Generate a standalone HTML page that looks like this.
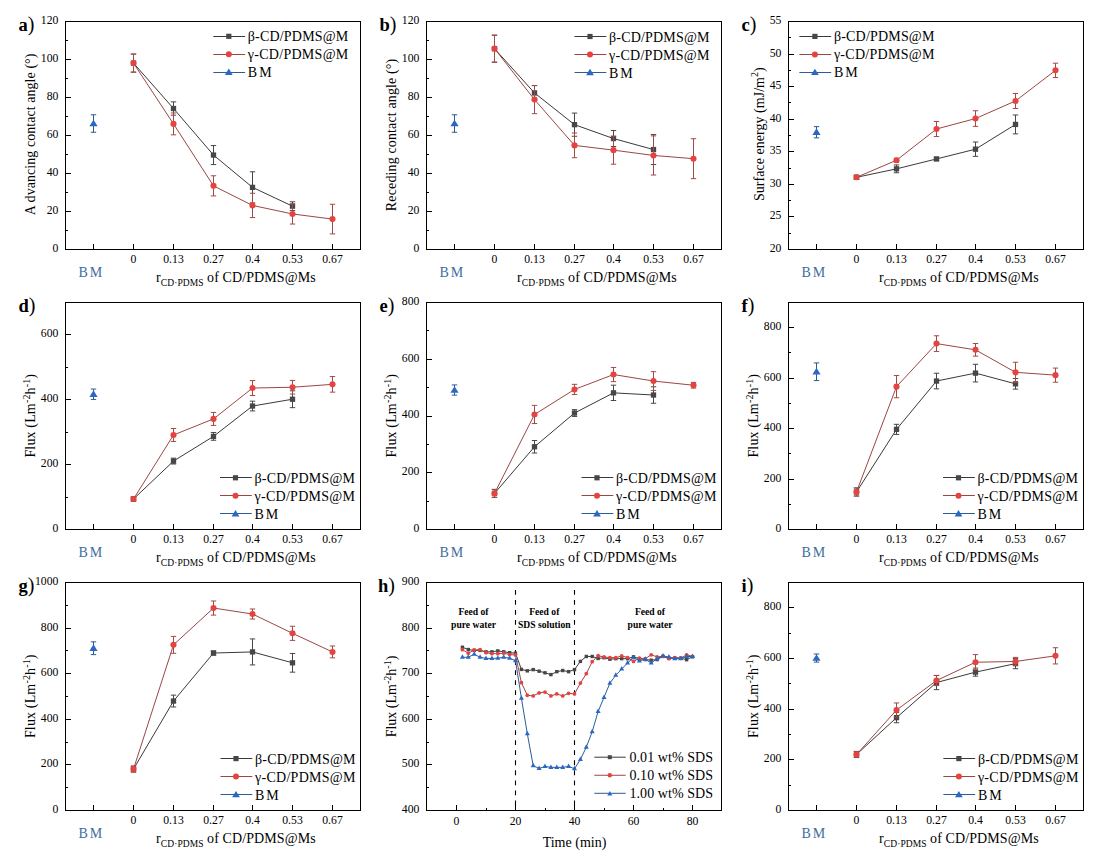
<!DOCTYPE html><html><head><meta charset='utf-8'><style>html,body{margin:0;padding:0;background:#fff;width:1104px;height:858px;overflow:hidden}svg{display:block}</style></head><body><svg width='1104' height='858' viewBox='0 0 1104 858' font-family="'Liberation Serif', serif"><rect width='1104' height='858' fill='#fff'/><path d='M93.5 249V244' stroke='#000' stroke-width='1'/><path d='M133.5 249V244' stroke='#000' stroke-width='1'/><path d='M173.5 249V244' stroke='#000' stroke-width='1'/><path d='M213.5 249V244' stroke='#000' stroke-width='1'/><path d='M252.5 249V244' stroke='#000' stroke-width='1'/><path d='M292.5 249V244' stroke='#000' stroke-width='1'/><path d='M332.5 249V244' stroke='#000' stroke-width='1'/><path d='M66 230.5H68' stroke='#000' stroke-width='1'/><path d='M66 211.5H71' stroke='#000' stroke-width='1'/><path d='M66 192.5H68' stroke='#000' stroke-width='1'/><path d='M66 173.5H71' stroke='#000' stroke-width='1'/><path d='M66 154.5H68' stroke='#000' stroke-width='1'/><path d='M66 135.5H71' stroke='#000' stroke-width='1'/><path d='M66 116.5H68' stroke='#000' stroke-width='1'/><path d='M66 97.5H71' stroke='#000' stroke-width='1'/><path d='M66 78.5H68' stroke='#000' stroke-width='1'/><path d='M66 59.5H71' stroke='#000' stroke-width='1'/><path d='M66 40.5H68' stroke='#000' stroke-width='1'/><text transform='translate(58.4 252) scale(0.9 1)' font-size='13' text-anchor='end' fill='#000'>0</text><text transform='translate(58.4 214) scale(0.9 1)' font-size='13' text-anchor='end' fill='#000'>20</text><text transform='translate(58.4 176) scale(0.9 1)' font-size='13' text-anchor='end' fill='#000'>40</text><text transform='translate(58.4 138) scale(0.9 1)' font-size='13' text-anchor='end' fill='#000'>60</text><text transform='translate(58.4 100) scale(0.9 1)' font-size='13' text-anchor='end' fill='#000'>80</text><text transform='translate(58.4 62) scale(0.9 1)' font-size='13' text-anchor='end' fill='#000'>100</text><text transform='translate(58.4 24) scale(0.9 1)' font-size='13' text-anchor='end' fill='#000'>120</text><rect x='65.5' y='21.5' width='295' height='228' fill='none' stroke='#000' stroke-width='1'/><text transform='translate(133.5 263) scale(0.9 1)' font-size='13' text-anchor='middle' fill='#000'>0</text><text transform='translate(173.5 263) scale(0.9 1)' font-size='13' text-anchor='middle' fill='#000'>0.13</text><text transform='translate(213.5 263) scale(0.9 1)' font-size='13' text-anchor='middle' fill='#000'>0.27</text><text transform='translate(252.5 263) scale(0.9 1)' font-size='13' text-anchor='middle' fill='#000'>0.4</text><text transform='translate(292.5 263) scale(0.9 1)' font-size='13' text-anchor='middle' fill='#000'>0.53</text><text transform='translate(332.5 263) scale(0.9 1)' font-size='13' text-anchor='middle' fill='#000'>0.67</text><text x='78.5' y='276.5' font-size='14' text-anchor='start' font-weight='normal' fill='#3d6d9e' letter-spacing='2'>BM</text><text x='156.1' y='282' font-size='14'>r<tspan font-size='9.5' dy='3.5' letter-spacing='0.1'>CD·PDMS</tspan><tspan dy='-3.5' dx='3.4' letter-spacing='0.1'>of CD/PDMS@Ms</tspan></text><text transform='translate(35 134.45) rotate(-90)' x='0' y='0' font-size='14' text-anchor='middle' textLength='161.8' lengthAdjust='spacing'>A dvancing contact angle (°)</text><text x='18.5' y='30.9' font-size='18.5' font-weight='bold'>a<tspan font-weight='normal' font-size='20' dy='0.3'>)</tspan></text><path d='M133.5 63.11L173.5 108.52L213.5 155.07L252.5 187.37L292.5 206.18' stroke='#3a3a3a' stroke-width='1' fill='none' stroke-linejoin='round'/><path d='M133.5 54.09V72.14M130.8 54.09H136.2M130.8 72.14H136.2' stroke='#474747' stroke-width='1' fill='none'/><path d='M173.5 101.87V115.17M170.8 101.87H176.2M170.8 115.17H176.2' stroke='#474747' stroke-width='1' fill='none'/><path d='M213.5 145.57V164.57M210.8 145.57H216.2M210.8 164.57H216.2' stroke='#474747' stroke-width='1' fill='none'/><path d='M252.5 171.79V202.95M249.8 171.79H255.2M249.8 202.95H255.2' stroke='#474747' stroke-width='1' fill='none'/><path d='M292.5 201.81V210.55M289.8 201.81H295.2M289.8 210.55H295.2' stroke='#474747' stroke-width='1' fill='none'/><rect x='130.85' y='60.46' width='5.3' height='5.3' fill='#474747'/><rect x='170.85' y='105.87' width='5.3' height='5.3' fill='#474747'/><rect x='210.85' y='152.42' width='5.3' height='5.3' fill='#474747'/><rect x='249.85' y='184.72' width='5.3' height='5.3' fill='#474747'/><rect x='289.85' y='203.53' width='5.3' height='5.3' fill='#474747'/><path d='M133.5 63.11L173.5 123.91L213.5 185.85L252.5 205.42L292.5 213.97L332.5 219.1' stroke='#9c4644' stroke-width='1' fill='none' stroke-linejoin='round'/><path d='M133.5 54.09V72.14M130.8 54.09H136.2M130.8 72.14H136.2' stroke='#a04a48' stroke-width='1' fill='none'/><path d='M173.5 112.99V134.84M170.8 112.99H176.2M170.8 134.84H176.2' stroke='#a04a48' stroke-width='1' fill='none'/><path d='M213.5 175.78V195.92M210.8 175.78H216.2M210.8 195.92H216.2' stroke='#a04a48' stroke-width='1' fill='none'/><path d='M252.5 193.26V217.58M249.8 193.26H255.2M249.8 217.58H255.2' stroke='#a04a48' stroke-width='1' fill='none'/><path d='M292.5 203.9V224.04M289.8 203.9H295.2M289.8 224.04H295.2' stroke='#a04a48' stroke-width='1' fill='none'/><path d='M332.5 204.28V233.92M329.8 204.28H335.2M329.8 233.92H335.2' stroke='#a04a48' stroke-width='1' fill='none'/><circle cx='133.5' cy='63.11' r='3.05' fill='#e5433f'/><circle cx='173.5' cy='123.91' r='3.05' fill='#e5433f'/><circle cx='213.5' cy='185.85' r='3.05' fill='#e5433f'/><circle cx='252.5' cy='205.42' r='3.05' fill='#e5433f'/><circle cx='292.5' cy='213.97' r='3.05' fill='#e5433f'/><circle cx='332.5' cy='219.1' r='3.05' fill='#e5433f'/><path d='M93.5 114.79V132.27M90.8 114.79H96.2M90.8 132.27H96.2' stroke='#2e5a92' stroke-width='1' fill='none'/><path d='M89.4 126.23L93.5 119.63L97.6 126.23Z' fill='#2a68c4'/><path d='M213.3 36.5H245.1' stroke='#3a3a3a' stroke-width='1'/><rect x='226.2' y='33.7' width='5.2' height='5.2' fill='#474747'/><text x='247.8' y='41.3' font-size='14' text-anchor='start' font-weight='normal' fill='#000' textLength='100.5' lengthAdjust='spacing'>β-CD/PDMS@M</text><path d='M213.3 54.5H245.1' stroke='#9c4644' stroke-width='1'/><circle cx='228.8' cy='54.3' r='3' fill='#e5433f'/><text x='247.8' y='59.3' font-size='14' text-anchor='start' font-weight='normal' fill='#000' textLength='100.5' lengthAdjust='spacing'>γ-CD/PDMS@M</text><path d='M213.3 72.5H245.1' stroke='#2c5c98' stroke-width='1'/><path d='M224.9 75L228.8 68.6L232.7 75Z' fill='#2a68c4'/><text x='247.8' y='77.3' font-size='14' text-anchor='start' font-weight='normal' fill='#000' letter-spacing='2'>BM</text><path d='M454.5 249V244' stroke='#000' stroke-width='1'/><path d='M494.5 249V244' stroke='#000' stroke-width='1'/><path d='M534.5 249V244' stroke='#000' stroke-width='1'/><path d='M574.5 249V244' stroke='#000' stroke-width='1'/><path d='M613.5 249V244' stroke='#000' stroke-width='1'/><path d='M653.5 249V244' stroke='#000' stroke-width='1'/><path d='M693.5 249V244' stroke='#000' stroke-width='1'/><path d='M427 230.5H429' stroke='#000' stroke-width='1'/><path d='M427 211.5H432' stroke='#000' stroke-width='1'/><path d='M427 192.5H429' stroke='#000' stroke-width='1'/><path d='M427 173.5H432' stroke='#000' stroke-width='1'/><path d='M427 154.5H429' stroke='#000' stroke-width='1'/><path d='M427 135.5H432' stroke='#000' stroke-width='1'/><path d='M427 116.5H429' stroke='#000' stroke-width='1'/><path d='M427 97.5H432' stroke='#000' stroke-width='1'/><path d='M427 78.5H429' stroke='#000' stroke-width='1'/><path d='M427 59.5H432' stroke='#000' stroke-width='1'/><path d='M427 40.5H429' stroke='#000' stroke-width='1'/><text transform='translate(419.4 252) scale(0.9 1)' font-size='13' text-anchor='end' fill='#000'>0</text><text transform='translate(419.4 214) scale(0.9 1)' font-size='13' text-anchor='end' fill='#000'>20</text><text transform='translate(419.4 176) scale(0.9 1)' font-size='13' text-anchor='end' fill='#000'>40</text><text transform='translate(419.4 138) scale(0.9 1)' font-size='13' text-anchor='end' fill='#000'>60</text><text transform='translate(419.4 100) scale(0.9 1)' font-size='13' text-anchor='end' fill='#000'>80</text><text transform='translate(419.4 62) scale(0.9 1)' font-size='13' text-anchor='end' fill='#000'>100</text><text transform='translate(419.4 24) scale(0.9 1)' font-size='13' text-anchor='end' fill='#000'>120</text><rect x='426.5' y='21.5' width='295' height='228' fill='none' stroke='#000' stroke-width='1'/><text transform='translate(494.5 263) scale(0.9 1)' font-size='13' text-anchor='middle' fill='#000'>0</text><text transform='translate(534.5 263) scale(0.9 1)' font-size='13' text-anchor='middle' fill='#000'>0.13</text><text transform='translate(574.5 263) scale(0.9 1)' font-size='13' text-anchor='middle' fill='#000'>0.27</text><text transform='translate(613.5 263) scale(0.9 1)' font-size='13' text-anchor='middle' fill='#000'>0.4</text><text transform='translate(653.5 263) scale(0.9 1)' font-size='13' text-anchor='middle' fill='#000'>0.53</text><text transform='translate(693.5 263) scale(0.9 1)' font-size='13' text-anchor='middle' fill='#000'>0.67</text><text x='439.5' y='276.5' font-size='14' text-anchor='start' font-weight='normal' fill='#3d6d9e' letter-spacing='2'>BM</text><text x='517.1' y='282' font-size='14'>r<tspan font-size='9.5' dy='3.5' letter-spacing='0.1'>CD·PDMS</tspan><tspan dy='-3.5' dx='3.4' letter-spacing='0.1'>of CD/PDMS@Ms</tspan></text><text transform='translate(396 134.95) rotate(-90)' x='0' y='0' font-size='14' text-anchor='middle' textLength='152.4' lengthAdjust='spacing'>Receding contact angle (°)</text><text x='379.5' y='30.9' font-size='18.5' font-weight='bold'>b<tspan font-weight='normal' font-size='20' dy='0.3'>)</tspan></text><path d='M494.5 48.67L534.5 92.94L574.5 124.67L613.5 138.54L653.5 149.56' stroke='#3a3a3a' stroke-width='1' fill='none' stroke-linejoin='round'/><path d='M494.5 35.18V62.16M491.8 35.18H497.2M491.8 62.16H497.2' stroke='#474747' stroke-width='1' fill='none'/><path d='M534.5 85.62V100.25M531.8 85.62H537.2M531.8 100.25H537.2' stroke='#474747' stroke-width='1' fill='none'/><path d='M574.5 113.08V136.26M571.8 113.08H577.2M571.8 136.26H577.2' stroke='#474747' stroke-width='1' fill='none'/><path d='M613.5 130.56V146.52M610.8 130.56H616.2M610.8 146.52H616.2' stroke='#474747' stroke-width='1' fill='none'/><path d='M653.5 134.55V164.57M650.8 134.55H656.2M650.8 164.57H656.2' stroke='#474747' stroke-width='1' fill='none'/><rect x='491.85' y='46.02' width='5.3' height='5.3' fill='#474747'/><rect x='531.85' y='90.29' width='5.3' height='5.3' fill='#474747'/><rect x='571.85' y='122.02' width='5.3' height='5.3' fill='#474747'/><rect x='610.85' y='135.89' width='5.3' height='5.3' fill='#474747'/><rect x='650.85' y='146.91' width='5.3' height='5.3' fill='#474747'/><path d='M494.5 48.67L534.5 99.59L574.5 145.38L613.5 150.13L653.5 155.45L693.5 158.68' stroke='#9c4644' stroke-width='1' fill='none' stroke-linejoin='round'/><path d='M494.5 35.18V62.16M491.8 35.18H497.2M491.8 62.16H497.2' stroke='#a04a48' stroke-width='1' fill='none'/><path d='M534.5 85.53V113.65M531.8 85.53H537.2M531.8 113.65H537.2' stroke='#a04a48' stroke-width='1' fill='none'/><path d='M574.5 133.03V157.73M571.8 133.03H577.2M571.8 157.73H577.2' stroke='#a04a48' stroke-width='1' fill='none'/><path d='M613.5 136.07V164.19M610.8 136.07H616.2M610.8 164.19H616.2' stroke='#a04a48' stroke-width='1' fill='none'/><path d='M653.5 135.88V175.02M650.8 135.88H656.2M650.8 175.02H656.2' stroke='#a04a48' stroke-width='1' fill='none'/><path d='M693.5 138.73V178.63M690.8 138.73H696.2M690.8 178.63H696.2' stroke='#a04a48' stroke-width='1' fill='none'/><circle cx='494.5' cy='48.67' r='3.05' fill='#e5433f'/><circle cx='534.5' cy='99.59' r='3.05' fill='#e5433f'/><circle cx='574.5' cy='145.38' r='3.05' fill='#e5433f'/><circle cx='613.5' cy='150.13' r='3.05' fill='#e5433f'/><circle cx='653.5' cy='155.45' r='3.05' fill='#e5433f'/><circle cx='693.5' cy='158.68' r='3.05' fill='#e5433f'/><path d='M454.5 114.79V132.27M451.8 114.79H457.2M451.8 132.27H457.2' stroke='#2e5a92' stroke-width='1' fill='none'/><path d='M450.4 126.23L454.5 119.63L458.6 126.23Z' fill='#2a68c4'/><path d='M574.5 36.5H606.3' stroke='#3a3a3a' stroke-width='1'/><rect x='587.4' y='33.9' width='5.2' height='5.2' fill='#474747'/><text x='609' y='41.5' font-size='14' text-anchor='start' font-weight='normal' fill='#000' textLength='100.5' lengthAdjust='spacing'>β-CD/PDMS@M</text><path d='M574.5 54.5H606.3' stroke='#9c4644' stroke-width='1'/><circle cx='590' cy='54.5' r='3' fill='#e5433f'/><text x='609' y='59.5' font-size='14' text-anchor='start' font-weight='normal' fill='#000' textLength='100.5' lengthAdjust='spacing'>γ-CD/PDMS@M</text><path d='M574.5 72.5H606.3' stroke='#2c5c98' stroke-width='1'/><path d='M586.1 75.2L590 68.8L593.9 75.2Z' fill='#2a68c4'/><text x='609' y='77.5' font-size='14' text-anchor='start' font-weight='normal' fill='#000' letter-spacing='2'>BM</text><path d='M816.5 249V244' stroke='#000' stroke-width='1'/><path d='M856.5 249V244' stroke='#000' stroke-width='1'/><path d='M896.5 249V244' stroke='#000' stroke-width='1'/><path d='M936.5 249V244' stroke='#000' stroke-width='1'/><path d='M975.5 249V244' stroke='#000' stroke-width='1'/><path d='M1015.5 249V244' stroke='#000' stroke-width='1'/><path d='M1055.5 249V244' stroke='#000' stroke-width='1'/><path d='M789 233.5H791' stroke='#000' stroke-width='1'/><path d='M789 216.5H794' stroke='#000' stroke-width='1'/><path d='M789 200.5H791' stroke='#000' stroke-width='1'/><path d='M789 184.5H794' stroke='#000' stroke-width='1'/><path d='M789 168.5H791' stroke='#000' stroke-width='1'/><path d='M789 151.5H794' stroke='#000' stroke-width='1'/><path d='M789 135.5H791' stroke='#000' stroke-width='1'/><path d='M789 119.5H794' stroke='#000' stroke-width='1'/><path d='M789 102.5H791' stroke='#000' stroke-width='1'/><path d='M789 86.5H794' stroke='#000' stroke-width='1'/><path d='M789 70.5H791' stroke='#000' stroke-width='1'/><path d='M789 54.5H794' stroke='#000' stroke-width='1'/><path d='M789 37.5H791' stroke='#000' stroke-width='1'/><text transform='translate(781.4 252) scale(0.9 1)' font-size='13' text-anchor='end' fill='#000'>20</text><text transform='translate(781.4 219) scale(0.9 1)' font-size='13' text-anchor='end' fill='#000'>25</text><text transform='translate(781.4 187) scale(0.9 1)' font-size='13' text-anchor='end' fill='#000'>30</text><text transform='translate(781.4 154) scale(0.9 1)' font-size='13' text-anchor='end' fill='#000'>35</text><text transform='translate(781.4 122) scale(0.9 1)' font-size='13' text-anchor='end' fill='#000'>40</text><text transform='translate(781.4 89) scale(0.9 1)' font-size='13' text-anchor='end' fill='#000'>45</text><text transform='translate(781.4 57) scale(0.9 1)' font-size='13' text-anchor='end' fill='#000'>50</text><text transform='translate(781.4 24) scale(0.9 1)' font-size='13' text-anchor='end' fill='#000'>55</text><rect x='788.5' y='21.5' width='295' height='228' fill='none' stroke='#000' stroke-width='1'/><text transform='translate(856.5 263) scale(0.9 1)' font-size='13' text-anchor='middle' fill='#000'>0</text><text transform='translate(896.5 263) scale(0.9 1)' font-size='13' text-anchor='middle' fill='#000'>0.13</text><text transform='translate(936.5 263) scale(0.9 1)' font-size='13' text-anchor='middle' fill='#000'>0.27</text><text transform='translate(975.5 263) scale(0.9 1)' font-size='13' text-anchor='middle' fill='#000'>0.4</text><text transform='translate(1015.5 263) scale(0.9 1)' font-size='13' text-anchor='middle' fill='#000'>0.53</text><text transform='translate(1055.5 263) scale(0.9 1)' font-size='13' text-anchor='middle' fill='#000'>0.67</text><text x='801.5' y='276.5' font-size='14' text-anchor='start' font-weight='normal' fill='#3d6d9e' letter-spacing='2'>BM</text><text x='879.1' y='282' font-size='14'>r<tspan font-size='9.5' dy='3.5' letter-spacing='0.1'>CD·PDMS</tspan><tspan dy='-3.5' dx='3.4' letter-spacing='0.1'>of CD/PDMS@Ms</tspan></text><text transform='translate(763.7 134.2) rotate(-90)' x='0' y='0' font-size='14' text-anchor='middle' textLength='133.8' lengthAdjust='spacing'>Surface energy (mJ/m<tspan font-size="10" dy="-6">2</tspan><tspan dy="6">)</tspan></text><text x='741.5' y='30.9' font-size='18.5' font-weight='bold'>c<tspan font-weight='normal' font-size='20' dy='0.3'>)</tspan></text><path d='M856.5 177.32L896.5 168.85L936.5 158.95L975.5 149.18L1015.5 124.43' stroke='#3a3a3a' stroke-width='1' fill='none' stroke-linejoin='round'/><path d='M856.5 175.37V179.28M853.8 175.37H859.2M853.8 179.28H859.2' stroke='#474747' stroke-width='1' fill='none'/><path d='M896.5 164.94V172.76M893.8 164.94H899.2M893.8 172.76H899.2' stroke='#474747' stroke-width='1' fill='none'/><path d='M936.5 157.32V160.58M933.8 157.32H939.2M933.8 160.58H939.2' stroke='#474747' stroke-width='1' fill='none'/><path d='M975.5 142.01V156.35M972.8 142.01H978.2M972.8 156.35H978.2' stroke='#474747' stroke-width='1' fill='none'/><path d='M1015.5 114.98V133.87M1012.8 114.98H1018.2M1012.8 133.87H1018.2' stroke='#474747' stroke-width='1' fill='none'/><rect x='853.85' y='174.67' width='5.3' height='5.3' fill='#474747'/><rect x='893.85' y='166.2' width='5.3' height='5.3' fill='#474747'/><rect x='933.85' y='156.3' width='5.3' height='5.3' fill='#474747'/><rect x='972.85' y='146.53' width='5.3' height='5.3' fill='#474747'/><rect x='1012.85' y='121.78' width='5.3' height='5.3' fill='#474747'/><path d='M856.5 177.32L896.5 160.25L936.5 128.99L975.5 118.56L1015.5 100.97L1055.5 70.36' stroke='#9c4644' stroke-width='1' fill='none' stroke-linejoin='round'/><path d='M856.5 175.37V179.28M853.8 175.37H859.2M853.8 179.28H859.2' stroke='#a04a48' stroke-width='1' fill='none'/><path d='M896.5 158.3V162.21M893.8 158.3H899.2M893.8 162.21H899.2' stroke='#a04a48' stroke-width='1' fill='none'/><path d='M936.5 121.49V136.48M933.8 121.49H939.2M933.8 136.48H939.2' stroke='#a04a48' stroke-width='1' fill='none'/><path d='M975.5 110.75V126.38M972.8 110.75H978.2M972.8 126.38H978.2' stroke='#a04a48' stroke-width='1' fill='none'/><path d='M1015.5 93.48V108.47M1012.8 93.48H1018.2M1012.8 108.47H1018.2' stroke='#a04a48' stroke-width='1' fill='none'/><path d='M1055.5 63.19V77.52M1052.8 63.19H1058.2M1052.8 77.52H1058.2' stroke='#a04a48' stroke-width='1' fill='none'/><circle cx='856.5' cy='177.32' r='3.05' fill='#e5433f'/><circle cx='896.5' cy='160.25' r='3.05' fill='#e5433f'/><circle cx='936.5' cy='128.99' r='3.05' fill='#e5433f'/><circle cx='975.5' cy='118.56' r='3.05' fill='#e5433f'/><circle cx='1015.5' cy='100.97' r='3.05' fill='#e5433f'/><circle cx='1055.5' cy='70.36' r='3.05' fill='#e5433f'/><path d='M816.5 126.64V137.85M813.8 126.64H819.2M813.8 137.85H819.2' stroke='#2e5a92' stroke-width='1' fill='none'/><path d='M812.4 134.94L816.5 128.34L820.6 134.94Z' fill='#2a68c4'/><path d='M799.4 36.5H831.2' stroke='#3a3a3a' stroke-width='1'/><rect x='812.3' y='33.8' width='5.2' height='5.2' fill='#474747'/><text x='833.9' y='41.4' font-size='14' text-anchor='start' font-weight='normal' fill='#000' textLength='100.5' lengthAdjust='spacing'>β-CD/PDMS@M</text><path d='M799.4 54.5H831.2' stroke='#9c4644' stroke-width='1'/><circle cx='814.9' cy='54.4' r='3' fill='#e5433f'/><text x='833.9' y='59.4' font-size='14' text-anchor='start' font-weight='normal' fill='#000' textLength='100.5' lengthAdjust='spacing'>γ-CD/PDMS@M</text><path d='M799.4 72.5H831.2' stroke='#2c5c98' stroke-width='1'/><path d='M811 75.1L814.9 68.7L818.8 75.1Z' fill='#2a68c4'/><text x='833.9' y='77.4' font-size='14' text-anchor='start' font-weight='normal' fill='#000' letter-spacing='2'>BM</text><path d='M93.5 529V524' stroke='#000' stroke-width='1'/><path d='M133.5 529V524' stroke='#000' stroke-width='1'/><path d='M173.5 529V524' stroke='#000' stroke-width='1'/><path d='M213.5 529V524' stroke='#000' stroke-width='1'/><path d='M252.5 529V524' stroke='#000' stroke-width='1'/><path d='M292.5 529V524' stroke='#000' stroke-width='1'/><path d='M332.5 529V524' stroke='#000' stroke-width='1'/><path d='M66 497.5H68' stroke='#000' stroke-width='1'/><path d='M66 464.5H71' stroke='#000' stroke-width='1'/><path d='M66 432.5H68' stroke='#000' stroke-width='1'/><path d='M66 399.5H71' stroke='#000' stroke-width='1'/><path d='M66 367.5H68' stroke='#000' stroke-width='1'/><path d='M66 334.5H71' stroke='#000' stroke-width='1'/><text transform='translate(58.4 532) scale(0.9 1)' font-size='13' text-anchor='end' fill='#000'>0</text><text transform='translate(58.4 467) scale(0.9 1)' font-size='13' text-anchor='end' fill='#000'>200</text><text transform='translate(58.4 402) scale(0.9 1)' font-size='13' text-anchor='end' fill='#000'>400</text><text transform='translate(58.4 337) scale(0.9 1)' font-size='13' text-anchor='end' fill='#000'>600</text><rect x='65.5' y='302.5' width='295' height='227' fill='none' stroke='#000' stroke-width='1'/><text transform='translate(133.5 543) scale(0.9 1)' font-size='13' text-anchor='middle' fill='#000'>0</text><text transform='translate(173.5 543) scale(0.9 1)' font-size='13' text-anchor='middle' fill='#000'>0.13</text><text transform='translate(213.5 543) scale(0.9 1)' font-size='13' text-anchor='middle' fill='#000'>0.27</text><text transform='translate(252.5 543) scale(0.9 1)' font-size='13' text-anchor='middle' fill='#000'>0.4</text><text transform='translate(292.5 543) scale(0.9 1)' font-size='13' text-anchor='middle' fill='#000'>0.53</text><text transform='translate(332.5 543) scale(0.9 1)' font-size='13' text-anchor='middle' fill='#000'>0.67</text><text x='78.5' y='556.5' font-size='14' text-anchor='start' font-weight='normal' fill='#3d6d9e' letter-spacing='2'>BM</text><text x='156.1' y='562' font-size='14'>r<tspan font-size='9.5' dy='3.5' letter-spacing='0.1'>CD·PDMS</tspan><tspan dy='-3.5' dx='3.4' letter-spacing='0.1'>of CD/PDMS@Ms</tspan></text><text transform='translate(35 415.8) rotate(-90)' x='0' y='0' font-size='14' text-anchor='middle' textLength='83.6' lengthAdjust='spacing'>Flux (Lm<tspan font-size="10" dy="-5.5">-2</tspan><tspan dy="5.5">h</tspan><tspan font-size="10" dy="-5.5">-1</tspan><tspan dy="5.5">)</tspan></text><text x='18.5' y='311.9' font-size='18.5' font-weight='bold'>d<tspan font-weight='normal' font-size='20' dy='0.3'>)</tspan></text><path d='M133.5 499.02L173.5 461.08L213.5 436.37L252.5 406.04L292.5 399.23' stroke='#3a3a3a' stroke-width='1' fill='none' stroke-linejoin='round'/><path d='M133.5 497.07V500.96M130.8 497.07H136.2M130.8 500.96H136.2' stroke='#474747' stroke-width='1' fill='none'/><path d='M173.5 458.16V463.99M170.8 458.16H176.2M170.8 463.99H176.2' stroke='#474747' stroke-width='1' fill='none'/><path d='M213.5 432.47V440.26M210.8 432.47H216.2M210.8 440.26H216.2' stroke='#474747' stroke-width='1' fill='none'/><path d='M252.5 401.18V410.91M249.8 401.18H255.2M249.8 410.91H255.2' stroke='#474747' stroke-width='1' fill='none'/><path d='M292.5 390.8V407.67M289.8 390.8H295.2M289.8 407.67H295.2' stroke='#474747' stroke-width='1' fill='none'/><rect x='130.85' y='496.37' width='5.3' height='5.3' fill='#474747'/><rect x='170.85' y='458.43' width='5.3' height='5.3' fill='#474747'/><rect x='210.85' y='433.72' width='5.3' height='5.3' fill='#474747'/><rect x='249.85' y='403.39' width='5.3' height='5.3' fill='#474747'/><rect x='289.85' y='396.58' width='5.3' height='5.3' fill='#474747'/><path d='M133.5 499.02L173.5 434.97L213.5 418.92L252.5 388.05L292.5 387.24L332.5 384.35' stroke='#9c4644' stroke-width='1' fill='none' stroke-linejoin='round'/><path d='M133.5 497.07V500.96M130.8 497.07H136.2M130.8 500.96H136.2' stroke='#a04a48' stroke-width='1' fill='none'/><path d='M173.5 428.49V441.46M170.8 428.49H176.2M170.8 441.46H176.2' stroke='#a04a48' stroke-width='1' fill='none'/><path d='M213.5 412.43V425.4M210.8 412.43H216.2M210.8 425.4H216.2' stroke='#a04a48' stroke-width='1' fill='none'/><path d='M252.5 380.59V395.51M249.8 380.59H255.2M249.8 395.51H255.2' stroke='#a04a48' stroke-width='1' fill='none'/><path d='M292.5 380.43V394.05M289.8 380.43H295.2M289.8 394.05H295.2' stroke='#a04a48' stroke-width='1' fill='none'/><path d='M332.5 376.57V392.13M329.8 376.57H335.2M329.8 392.13H335.2' stroke='#a04a48' stroke-width='1' fill='none'/><circle cx='133.5' cy='499.02' r='3.05' fill='#e5433f'/><circle cx='173.5' cy='434.97' r='3.05' fill='#e5433f'/><circle cx='213.5' cy='418.92' r='3.05' fill='#e5433f'/><circle cx='252.5' cy='388.05' r='3.05' fill='#e5433f'/><circle cx='292.5' cy='387.24' r='3.05' fill='#e5433f'/><circle cx='332.5' cy='384.35' r='3.05' fill='#e5433f'/><path d='M93.5 389.05V399.43M90.8 389.05H96.2M90.8 399.43H96.2' stroke='#2e5a92' stroke-width='1' fill='none'/><path d='M89.4 396.94L93.5 390.34L97.6 396.94Z' fill='#2a68c4'/><path d='M220 477.5H251.8' stroke='#3a3a3a' stroke-width='1'/><rect x='232.9' y='475.2' width='5.2' height='5.2' fill='#474747'/><text x='254.5' y='482.8' font-size='14' text-anchor='start' font-weight='normal' fill='#000' textLength='100.5' lengthAdjust='spacing'>β-CD/PDMS@M</text><path d='M220 495.5H251.8' stroke='#9c4644' stroke-width='1'/><circle cx='235.5' cy='495.8' r='3' fill='#e5433f'/><text x='254.5' y='500.8' font-size='14' text-anchor='start' font-weight='normal' fill='#000' textLength='100.5' lengthAdjust='spacing'>γ-CD/PDMS@M</text><path d='M220 513.5H251.8' stroke='#2c5c98' stroke-width='1'/><path d='M231.6 516.5L235.5 510.1L239.4 516.5Z' fill='#2a68c4'/><text x='254.5' y='518.8' font-size='14' text-anchor='start' font-weight='normal' fill='#000' letter-spacing='2'>BM</text><path d='M454.5 529V524' stroke='#000' stroke-width='1'/><path d='M494.5 529V524' stroke='#000' stroke-width='1'/><path d='M534.5 529V524' stroke='#000' stroke-width='1'/><path d='M574.5 529V524' stroke='#000' stroke-width='1'/><path d='M613.5 529V524' stroke='#000' stroke-width='1'/><path d='M653.5 529V524' stroke='#000' stroke-width='1'/><path d='M693.5 529V524' stroke='#000' stroke-width='1'/><path d='M427 501.5H429' stroke='#000' stroke-width='1'/><path d='M427 472.5H432' stroke='#000' stroke-width='1'/><path d='M427 444.5H429' stroke='#000' stroke-width='1'/><path d='M427 416.5H432' stroke='#000' stroke-width='1'/><path d='M427 387.5H429' stroke='#000' stroke-width='1'/><path d='M427 359.5H432' stroke='#000' stroke-width='1'/><path d='M427 330.5H429' stroke='#000' stroke-width='1'/><text transform='translate(419.4 532) scale(0.9 1)' font-size='13' text-anchor='end' fill='#000'>0</text><text transform='translate(419.4 475) scale(0.9 1)' font-size='13' text-anchor='end' fill='#000'>200</text><text transform='translate(419.4 418) scale(0.9 1)' font-size='13' text-anchor='end' fill='#000'>400</text><text transform='translate(419.4 362) scale(0.9 1)' font-size='13' text-anchor='end' fill='#000'>600</text><text transform='translate(419.4 305) scale(0.9 1)' font-size='13' text-anchor='end' fill='#000'>800</text><rect x='426.5' y='302.5' width='295' height='227' fill='none' stroke='#000' stroke-width='1'/><text transform='translate(494.5 543) scale(0.9 1)' font-size='13' text-anchor='middle' fill='#000'>0</text><text transform='translate(534.5 543) scale(0.9 1)' font-size='13' text-anchor='middle' fill='#000'>0.13</text><text transform='translate(574.5 543) scale(0.9 1)' font-size='13' text-anchor='middle' fill='#000'>0.27</text><text transform='translate(613.5 543) scale(0.9 1)' font-size='13' text-anchor='middle' fill='#000'>0.4</text><text transform='translate(653.5 543) scale(0.9 1)' font-size='13' text-anchor='middle' fill='#000'>0.53</text><text transform='translate(693.5 543) scale(0.9 1)' font-size='13' text-anchor='middle' fill='#000'>0.67</text><text x='439.5' y='556.5' font-size='14' text-anchor='start' font-weight='normal' fill='#3d6d9e' letter-spacing='2'>BM</text><text x='517.1' y='562' font-size='14'>r<tspan font-size='9.5' dy='3.5' letter-spacing='0.1'>CD·PDMS</tspan><tspan dy='-3.5' dx='3.4' letter-spacing='0.1'>of CD/PDMS@Ms</tspan></text><text transform='translate(396 415.8) rotate(-90)' x='0' y='0' font-size='14' text-anchor='middle' textLength='83.6' lengthAdjust='spacing'>Flux (Lm<tspan font-size="10" dy="-5.5">-2</tspan><tspan dy="5.5">h</tspan><tspan font-size="10" dy="-5.5">-1</tspan><tspan dy="5.5">)</tspan></text><text x='379.5' y='311.9' font-size='18.5' font-weight='bold'>e<tspan font-weight='normal' font-size='20' dy='0.3'>)</tspan></text><path d='M494.5 493.38L534.5 446.76L574.5 413.05L613.5 392.85L653.5 395.03' stroke='#3a3a3a' stroke-width='1' fill='none' stroke-linejoin='round'/><path d='M494.5 489.41V497.35M491.8 489.41H497.2M491.8 497.35H497.2' stroke='#474747' stroke-width='1' fill='none'/><path d='M534.5 440.52V453M531.8 440.52H537.2M531.8 453H537.2' stroke='#474747' stroke-width='1' fill='none'/><path d='M574.5 409.64V416.45M571.8 409.64H577.2M571.8 416.45H577.2' stroke='#474747' stroke-width='1' fill='none'/><path d='M613.5 385.18V400.51M610.8 385.18H616.2M610.8 400.51H616.2' stroke='#474747' stroke-width='1' fill='none'/><path d='M653.5 386.8V403.26M650.8 386.8H656.2M650.8 403.26H656.2' stroke='#474747' stroke-width='1' fill='none'/><rect x='491.85' y='490.73' width='5.3' height='5.3' fill='#474747'/><rect x='531.85' y='444.11' width='5.3' height='5.3' fill='#474747'/><rect x='571.85' y='410.4' width='5.3' height='5.3' fill='#474747'/><rect x='610.85' y='390.2' width='5.3' height='5.3' fill='#474747'/><rect x='650.85' y='392.38' width='5.3' height='5.3' fill='#474747'/><path d='M494.5 493.38L534.5 414.47L574.5 389.44L613.5 374.54L653.5 381.04L693.5 385.24' stroke='#9c4644' stroke-width='1' fill='none' stroke-linejoin='round'/><path d='M494.5 489.41V497.35M491.8 489.41H497.2M491.8 497.35H497.2' stroke='#a04a48' stroke-width='1' fill='none'/><path d='M534.5 405.39V423.55M531.8 405.39H537.2M531.8 423.55H537.2' stroke='#a04a48' stroke-width='1' fill='none'/><path d='M574.5 384.33V394.55M571.8 384.33H577.2M571.8 394.55H577.2' stroke='#a04a48' stroke-width='1' fill='none'/><path d='M613.5 367.45V381.64M610.8 367.45H616.2M610.8 381.64H616.2' stroke='#a04a48' stroke-width='1' fill='none'/><path d='M653.5 371.68V390.41M650.8 371.68H656.2M650.8 390.41H656.2' stroke='#a04a48' stroke-width='1' fill='none'/><path d='M693.5 382.4V388.08M690.8 382.4H696.2M690.8 388.08H696.2' stroke='#a04a48' stroke-width='1' fill='none'/><circle cx='494.5' cy='493.38' r='3.05' fill='#e5433f'/><circle cx='534.5' cy='414.47' r='3.05' fill='#e5433f'/><circle cx='574.5' cy='389.44' r='3.05' fill='#e5433f'/><circle cx='613.5' cy='374.54' r='3.05' fill='#e5433f'/><circle cx='653.5' cy='381.04' r='3.05' fill='#e5433f'/><circle cx='693.5' cy='385.24' r='3.05' fill='#e5433f'/><path d='M454.5 384.93V395.14M451.8 384.93H457.2M451.8 395.14H457.2' stroke='#2e5a92' stroke-width='1' fill='none'/><path d='M450.4 392.74L454.5 386.14L458.6 392.74Z' fill='#2a68c4'/><path d='M581.5 477.5H613.3' stroke='#3a3a3a' stroke-width='1'/><rect x='594.4' y='475.2' width='5.2' height='5.2' fill='#474747'/><text x='616' y='482.8' font-size='14' text-anchor='start' font-weight='normal' fill='#000' textLength='100.5' lengthAdjust='spacing'>β-CD/PDMS@M</text><path d='M581.5 495.5H613.3' stroke='#9c4644' stroke-width='1'/><circle cx='597' cy='495.8' r='3' fill='#e5433f'/><text x='616' y='500.8' font-size='14' text-anchor='start' font-weight='normal' fill='#000' textLength='100.5' lengthAdjust='spacing'>γ-CD/PDMS@M</text><path d='M581.5 513.5H613.3' stroke='#2c5c98' stroke-width='1'/><path d='M593.1 516.5L597 510.1L600.9 516.5Z' fill='#2a68c4'/><text x='616' y='518.8' font-size='14' text-anchor='start' font-weight='normal' fill='#000' letter-spacing='2'>BM</text><path d='M816.5 529V524' stroke='#000' stroke-width='1'/><path d='M856.5 529V524' stroke='#000' stroke-width='1'/><path d='M896.5 529V524' stroke='#000' stroke-width='1'/><path d='M936.5 529V524' stroke='#000' stroke-width='1'/><path d='M975.5 529V524' stroke='#000' stroke-width='1'/><path d='M1015.5 529V524' stroke='#000' stroke-width='1'/><path d='M1055.5 529V524' stroke='#000' stroke-width='1'/><path d='M789 504.5H791' stroke='#000' stroke-width='1'/><path d='M789 479.5H794' stroke='#000' stroke-width='1'/><path d='M789 453.5H791' stroke='#000' stroke-width='1'/><path d='M789 428.5H794' stroke='#000' stroke-width='1'/><path d='M789 403.5H791' stroke='#000' stroke-width='1'/><path d='M789 378.5H794' stroke='#000' stroke-width='1'/><path d='M789 352.5H791' stroke='#000' stroke-width='1'/><path d='M789 327.5H794' stroke='#000' stroke-width='1'/><text transform='translate(781.4 532) scale(0.9 1)' font-size='13' text-anchor='end' fill='#000'>0</text><text transform='translate(781.4 482) scale(0.9 1)' font-size='13' text-anchor='end' fill='#000'>200</text><text transform='translate(781.4 431) scale(0.9 1)' font-size='13' text-anchor='end' fill='#000'>400</text><text transform='translate(781.4 381) scale(0.9 1)' font-size='13' text-anchor='end' fill='#000'>600</text><text transform='translate(781.4 330) scale(0.9 1)' font-size='13' text-anchor='end' fill='#000'>800</text><rect x='788.5' y='302.5' width='295' height='227' fill='none' stroke='#000' stroke-width='1'/><text transform='translate(856.5 543) scale(0.9 1)' font-size='13' text-anchor='middle' fill='#000'>0</text><text transform='translate(896.5 543) scale(0.9 1)' font-size='13' text-anchor='middle' fill='#000'>0.13</text><text transform='translate(936.5 543) scale(0.9 1)' font-size='13' text-anchor='middle' fill='#000'>0.27</text><text transform='translate(975.5 543) scale(0.9 1)' font-size='13' text-anchor='middle' fill='#000'>0.4</text><text transform='translate(1015.5 543) scale(0.9 1)' font-size='13' text-anchor='middle' fill='#000'>0.53</text><text transform='translate(1055.5 543) scale(0.9 1)' font-size='13' text-anchor='middle' fill='#000'>0.67</text><text x='801.5' y='556.5' font-size='14' text-anchor='start' font-weight='normal' fill='#3d6d9e' letter-spacing='2'>BM</text><text x='879.1' y='562' font-size='14'>r<tspan font-size='9.5' dy='3.5' letter-spacing='0.1'>CD·PDMS</tspan><tspan dy='-3.5' dx='3.4' letter-spacing='0.1'>of CD/PDMS@Ms</tspan></text><text transform='translate(758 415.8) rotate(-90)' x='0' y='0' font-size='14' text-anchor='middle' textLength='83.6' lengthAdjust='spacing'>Flux (Lm<tspan font-size="10" dy="-5.5">-2</tspan><tspan dy="5.5">h</tspan><tspan font-size="10" dy="-5.5">-1</tspan><tspan dy="5.5">)</tspan></text><text x='741.5' y='311.9' font-size='18.5' font-weight='bold'>f<tspan font-weight='normal' font-size='20' dy='0.3'>)</tspan></text><path d='M856.5 491.99L896.5 429.37L936.5 381.04L975.5 373.12L1015.5 383.84' stroke='#3a3a3a' stroke-width='1' fill='none' stroke-linejoin='round'/><path d='M856.5 487.96V496.03M853.8 487.96H859.2M853.8 496.03H859.2' stroke='#474747' stroke-width='1' fill='none'/><path d='M896.5 424.32V434.41M893.8 424.32H899.2M893.8 434.41H899.2' stroke='#474747' stroke-width='1' fill='none'/><path d='M936.5 373.22V388.86M933.8 373.22H939.2M933.8 388.86H939.2' stroke='#474747' stroke-width='1' fill='none'/><path d='M975.5 364.29V381.95M972.8 364.29H978.2M972.8 381.95H978.2' stroke='#474747' stroke-width='1' fill='none'/><path d='M1015.5 378.54V389.14M1012.8 378.54H1018.2M1012.8 389.14H1018.2' stroke='#474747' stroke-width='1' fill='none'/><rect x='853.85' y='489.34' width='5.3' height='5.3' fill='#474747'/><rect x='893.85' y='426.72' width='5.3' height='5.3' fill='#474747'/><rect x='933.85' y='378.39' width='5.3' height='5.3' fill='#474747'/><rect x='972.85' y='370.47' width='5.3' height='5.3' fill='#474747'/><rect x='1012.85' y='381.19' width='5.3' height='5.3' fill='#474747'/><path d='M856.5 491.99L896.5 386.64L936.5 343.61L975.5 349.82L1015.5 372.34L1055.5 375.14' stroke='#9c4644' stroke-width='1' fill='none' stroke-linejoin='round'/><path d='M856.5 487.96V496.03M853.8 487.96H859.2M853.8 496.03H859.2' stroke='#a04a48' stroke-width='1' fill='none'/><path d='M896.5 375.54V397.74M893.8 375.54H899.2M893.8 397.74H899.2' stroke='#a04a48' stroke-width='1' fill='none'/><path d='M936.5 335.79V351.43M933.8 335.79H939.2M933.8 351.43H939.2' stroke='#a04a48' stroke-width='1' fill='none'/><path d='M975.5 343.51V356.12M972.8 343.51H978.2M972.8 356.12H978.2' stroke='#a04a48' stroke-width='1' fill='none'/><path d='M1015.5 362.25V382.43M1012.8 362.25H1018.2M1012.8 382.43H1018.2' stroke='#a04a48' stroke-width='1' fill='none'/><path d='M1055.5 368.08V382.2M1052.8 368.08H1058.2M1052.8 382.2H1058.2' stroke='#a04a48' stroke-width='1' fill='none'/><circle cx='856.5' cy='491.99' r='3.05' fill='#e5433f'/><circle cx='896.5' cy='386.64' r='3.05' fill='#e5433f'/><circle cx='936.5' cy='343.61' r='3.05' fill='#e5433f'/><circle cx='975.5' cy='349.82' r='3.05' fill='#e5433f'/><circle cx='1015.5' cy='372.34' r='3.05' fill='#e5433f'/><circle cx='1055.5' cy='375.14' r='3.05' fill='#e5433f'/><path d='M816.5 362.91V380.56M813.8 362.91H819.2M813.8 380.56H819.2' stroke='#2e5a92' stroke-width='1' fill='none'/><path d='M812.4 374.44L816.5 367.83L820.6 374.44Z' fill='#2a68c4'/><path d='M943 477.5H974.8' stroke='#3a3a3a' stroke-width='1'/><rect x='955.9' y='475.2' width='5.2' height='5.2' fill='#474747'/><text x='977.5' y='482.8' font-size='14' text-anchor='start' font-weight='normal' fill='#000' textLength='100.5' lengthAdjust='spacing'>β-CD/PDMS@M</text><path d='M943 495.5H974.8' stroke='#9c4644' stroke-width='1'/><circle cx='958.5' cy='495.8' r='3' fill='#e5433f'/><text x='977.5' y='500.8' font-size='14' text-anchor='start' font-weight='normal' fill='#000' textLength='100.5' lengthAdjust='spacing'>γ-CD/PDMS@M</text><path d='M943 513.5H974.8' stroke='#2c5c98' stroke-width='1'/><path d='M954.6 516.5L958.5 510.1L962.4 516.5Z' fill='#2a68c4'/><text x='977.5' y='518.8' font-size='14' text-anchor='start' font-weight='normal' fill='#000' letter-spacing='2'>BM</text><path d='M93.5 810V805' stroke='#000' stroke-width='1'/><path d='M133.5 810V805' stroke='#000' stroke-width='1'/><path d='M173.5 810V805' stroke='#000' stroke-width='1'/><path d='M213.5 810V805' stroke='#000' stroke-width='1'/><path d='M252.5 810V805' stroke='#000' stroke-width='1'/><path d='M292.5 810V805' stroke='#000' stroke-width='1'/><path d='M332.5 810V805' stroke='#000' stroke-width='1'/><path d='M66 787.5H68' stroke='#000' stroke-width='1'/><path d='M66 764.5H71' stroke='#000' stroke-width='1'/><path d='M66 742.5H68' stroke='#000' stroke-width='1'/><path d='M66 719.5H71' stroke='#000' stroke-width='1'/><path d='M66 696.5H68' stroke='#000' stroke-width='1'/><path d='M66 673.5H71' stroke='#000' stroke-width='1'/><path d='M66 650.5H68' stroke='#000' stroke-width='1'/><path d='M66 628.5H71' stroke='#000' stroke-width='1'/><path d='M66 605.5H68' stroke='#000' stroke-width='1'/><text transform='translate(58.4 813) scale(0.9 1)' font-size='13' text-anchor='end' fill='#000'>0</text><text transform='translate(58.4 767) scale(0.9 1)' font-size='13' text-anchor='end' fill='#000'>200</text><text transform='translate(58.4 722) scale(0.9 1)' font-size='13' text-anchor='end' fill='#000'>400</text><text transform='translate(58.4 676) scale(0.9 1)' font-size='13' text-anchor='end' fill='#000'>600</text><text transform='translate(58.4 631) scale(0.9 1)' font-size='13' text-anchor='end' fill='#000'>800</text><text transform='translate(58.4 585) scale(0.9 1)' font-size='13' text-anchor='end' fill='#000'>1000</text><rect x='65.5' y='582.5' width='295' height='228' fill='none' stroke='#000' stroke-width='1'/><text transform='translate(133.5 824) scale(0.9 1)' font-size='13' text-anchor='middle' fill='#000'>0</text><text transform='translate(173.5 824) scale(0.9 1)' font-size='13' text-anchor='middle' fill='#000'>0.13</text><text transform='translate(213.5 824) scale(0.9 1)' font-size='13' text-anchor='middle' fill='#000'>0.27</text><text transform='translate(252.5 824) scale(0.9 1)' font-size='13' text-anchor='middle' fill='#000'>0.4</text><text transform='translate(292.5 824) scale(0.9 1)' font-size='13' text-anchor='middle' fill='#000'>0.53</text><text transform='translate(332.5 824) scale(0.9 1)' font-size='13' text-anchor='middle' fill='#000'>0.67</text><text x='78.5' y='837.5' font-size='14' text-anchor='start' font-weight='normal' fill='#3d6d9e' letter-spacing='2'>BM</text><text x='156.1' y='843' font-size='14'>r<tspan font-size='9.5' dy='3.5' letter-spacing='0.1'>CD·PDMS</tspan><tspan dy='-3.5' dx='3.4' letter-spacing='0.1'>of CD/PDMS@Ms</tspan></text><text transform='translate(35 696.3) rotate(-90)' x='0' y='0' font-size='14' text-anchor='middle' textLength='83.6' lengthAdjust='spacing'>Flux (Lm<tspan font-size="10" dy="-5.5">-2</tspan><tspan dy="5.5">h</tspan><tspan font-size="10" dy="-5.5">-1</tspan><tspan dy="5.5">)</tspan></text><text x='18.5' y='591.9' font-size='18.5' font-weight='bold'>g<tspan font-weight='normal' font-size='20' dy='0.3'>)</tspan></text><path d='M133.5 769.07L173.5 701.06L213.5 653.04L252.5 651.93L292.5 662.82' stroke='#3a3a3a' stroke-width='1' fill='none' stroke-linejoin='round'/><path d='M133.5 766.11V772.04M130.8 766.11H136.2M130.8 772.04H136.2' stroke='#474747' stroke-width='1' fill='none'/><path d='M173.5 695.13V706.99M170.8 695.13H176.2M170.8 706.99H176.2' stroke='#474747' stroke-width='1' fill='none'/><path d='M213.5 650.99V655.1M210.8 650.99H216.2M210.8 655.1H216.2' stroke='#474747' stroke-width='1' fill='none'/><path d='M252.5 638.93V664.92M249.8 638.93H255.2M249.8 664.92H255.2' stroke='#474747' stroke-width='1' fill='none'/><path d='M292.5 653.48V672.17M289.8 653.48H295.2M289.8 672.17H295.2' stroke='#474747' stroke-width='1' fill='none'/><rect x='130.85' y='766.42' width='5.3' height='5.3' fill='#474747'/><rect x='170.85' y='698.41' width='5.3' height='5.3' fill='#474747'/><rect x='210.85' y='650.39' width='5.3' height='5.3' fill='#474747'/><rect x='249.85' y='649.28' width='5.3' height='5.3' fill='#474747'/><rect x='289.85' y='660.17' width='5.3' height='5.3' fill='#474747'/><path d='M133.5 769.07L173.5 644.84L213.5 608.04L252.5 614.01L292.5 633.32L332.5 651.93' stroke='#9c4644' stroke-width='1' fill='none' stroke-linejoin='round'/><path d='M133.5 766.11V772.04M130.8 766.11H136.2M130.8 772.04H136.2' stroke='#a04a48' stroke-width='1' fill='none'/><path d='M173.5 636.4V653.27M170.8 636.4H176.2M170.8 653.27H176.2' stroke='#a04a48' stroke-width='1' fill='none'/><path d='M213.5 600.97V615.1M210.8 600.97H216.2M210.8 615.1H216.2' stroke='#a04a48' stroke-width='1' fill='none'/><path d='M252.5 608.99V619.03M249.8 608.99H255.2M249.8 619.03H255.2' stroke='#a04a48' stroke-width='1' fill='none'/><path d='M292.5 626.25V640.39M289.8 626.25H295.2M289.8 640.39H295.2' stroke='#a04a48' stroke-width='1' fill='none'/><path d='M332.5 646V657.85M329.8 646H335.2M329.8 657.85H335.2' stroke='#a04a48' stroke-width='1' fill='none'/><circle cx='133.5' cy='769.07' r='3.05' fill='#e5433f'/><circle cx='173.5' cy='644.84' r='3.05' fill='#e5433f'/><circle cx='213.5' cy='608.04' r='3.05' fill='#e5433f'/><circle cx='252.5' cy='614.01' r='3.05' fill='#e5433f'/><circle cx='292.5' cy='633.32' r='3.05' fill='#e5433f'/><circle cx='332.5' cy='651.93' r='3.05' fill='#e5433f'/><path d='M93.5 641.85V654.62M90.8 641.85H96.2M90.8 654.62H96.2' stroke='#2e5a92' stroke-width='1' fill='none'/><path d='M89.4 650.93L93.5 644.33L97.6 650.93Z' fill='#2a68c4'/><path d='M220.5 758.5H252.3' stroke='#3a3a3a' stroke-width='1'/><rect x='233.4' y='756' width='5.2' height='5.2' fill='#474747'/><text x='255' y='763.6' font-size='14' text-anchor='start' font-weight='normal' fill='#000' textLength='100.5' lengthAdjust='spacing'>β-CD/PDMS@M</text><path d='M220.5 776.5H252.3' stroke='#9c4644' stroke-width='1'/><circle cx='236' cy='776.6' r='3' fill='#e5433f'/><text x='255' y='781.6' font-size='14' text-anchor='start' font-weight='normal' fill='#000' textLength='100.5' lengthAdjust='spacing'>γ-CD/PDMS@M</text><path d='M220.5 794.5H252.3' stroke='#2c5c98' stroke-width='1'/><path d='M232.1 797.3L236 790.9L239.9 797.3Z' fill='#2a68c4'/><text x='255' y='799.6' font-size='14' text-anchor='start' font-weight='normal' fill='#000' letter-spacing='2'>BM</text><path d='M816.5 810V805' stroke='#000' stroke-width='1'/><path d='M856.5 810V805' stroke='#000' stroke-width='1'/><path d='M896.5 810V805' stroke='#000' stroke-width='1'/><path d='M936.5 810V805' stroke='#000' stroke-width='1'/><path d='M975.5 810V805' stroke='#000' stroke-width='1'/><path d='M1015.5 810V805' stroke='#000' stroke-width='1'/><path d='M1055.5 810V805' stroke='#000' stroke-width='1'/><path d='M789 785.5H791' stroke='#000' stroke-width='1'/><path d='M789 759.5H794' stroke='#000' stroke-width='1'/><path d='M789 734.5H791' stroke='#000' stroke-width='1'/><path d='M789 709.5H794' stroke='#000' stroke-width='1'/><path d='M789 683.5H791' stroke='#000' stroke-width='1'/><path d='M789 658.5H794' stroke='#000' stroke-width='1'/><path d='M789 633.5H791' stroke='#000' stroke-width='1'/><path d='M789 607.5H794' stroke='#000' stroke-width='1'/><text transform='translate(781.4 813) scale(0.9 1)' font-size='13' text-anchor='end' fill='#000'>0</text><text transform='translate(781.4 762) scale(0.9 1)' font-size='13' text-anchor='end' fill='#000'>200</text><text transform='translate(781.4 712) scale(0.9 1)' font-size='13' text-anchor='end' fill='#000'>400</text><text transform='translate(781.4 661) scale(0.9 1)' font-size='13' text-anchor='end' fill='#000'>600</text><text transform='translate(781.4 610) scale(0.9 1)' font-size='13' text-anchor='end' fill='#000'>800</text><rect x='788.5' y='582.5' width='295' height='228' fill='none' stroke='#000' stroke-width='1'/><text transform='translate(856.5 824) scale(0.9 1)' font-size='13' text-anchor='middle' fill='#000'>0</text><text transform='translate(896.5 824) scale(0.9 1)' font-size='13' text-anchor='middle' fill='#000'>0.13</text><text transform='translate(936.5 824) scale(0.9 1)' font-size='13' text-anchor='middle' fill='#000'>0.27</text><text transform='translate(975.5 824) scale(0.9 1)' font-size='13' text-anchor='middle' fill='#000'>0.4</text><text transform='translate(1015.5 824) scale(0.9 1)' font-size='13' text-anchor='middle' fill='#000'>0.53</text><text transform='translate(1055.5 824) scale(0.9 1)' font-size='13' text-anchor='middle' fill='#000'>0.67</text><text x='801.5' y='837.5' font-size='14' text-anchor='start' font-weight='normal' fill='#3d6d9e' letter-spacing='2'>BM</text><text x='879.1' y='843' font-size='14'>r<tspan font-size='9.5' dy='3.5' letter-spacing='0.1'>CD·PDMS</tspan><tspan dy='-3.5' dx='3.4' letter-spacing='0.1'>of CD/PDMS@Ms</tspan></text><text transform='translate(758 696.3) rotate(-90)' x='0' y='0' font-size='14' text-anchor='middle' textLength='83.6' lengthAdjust='spacing'>Flux (Lm<tspan font-size="10" dy="-5.5">-2</tspan><tspan dy="5.5">h</tspan><tspan font-size="10" dy="-5.5">-1</tspan><tspan dy="5.5">)</tspan></text><text x='741.5' y='591.9' font-size='18.5' font-weight='bold'>i<tspan font-weight='normal' font-size='20' dy='0.3'>)</tspan></text><path d='M856.5 754.49L896.5 717.65L936.5 682.54L975.5 672.13L1015.5 663.64' stroke='#3a3a3a' stroke-width='1' fill='none' stroke-linejoin='round'/><path d='M856.5 751.45V757.53M853.8 751.45H859.2M853.8 757.53H859.2' stroke='#474747' stroke-width='1' fill='none'/><path d='M896.5 712.59V722.72M893.8 712.59H899.2M893.8 722.72H899.2' stroke='#474747' stroke-width='1' fill='none'/><path d='M936.5 675.45V689.63M933.8 675.45H939.2M933.8 689.63H939.2' stroke='#474747' stroke-width='1' fill='none'/><path d='M975.5 668.08V676.18M972.8 668.08H978.2M972.8 676.18H978.2' stroke='#474747' stroke-width='1' fill='none'/><path d='M1015.5 658.58V668.71M1012.8 658.58H1018.2M1012.8 668.71H1018.2' stroke='#474747' stroke-width='1' fill='none'/><rect x='853.85' y='751.84' width='5.3' height='5.3' fill='#474747'/><rect x='893.85' y='715' width='5.3' height='5.3' fill='#474747'/><rect x='933.85' y='679.89' width='5.3' height='5.3' fill='#474747'/><rect x='972.85' y='669.48' width='5.3' height='5.3' fill='#474747'/><rect x='1012.85' y='660.99' width='5.3' height='5.3' fill='#474747'/><path d='M856.5 754.49L896.5 710.05L936.5 680.54L975.5 662.22L1015.5 661.44L1055.5 655.84' stroke='#9c4644' stroke-width='1' fill='none' stroke-linejoin='round'/><path d='M856.5 751.45V757.53M853.8 751.45H859.2M853.8 757.53H859.2' stroke='#a04a48' stroke-width='1' fill='none'/><path d='M896.5 702.96V717.15M893.8 702.96H899.2M893.8 717.15H899.2' stroke='#a04a48' stroke-width='1' fill='none'/><path d='M936.5 675.47V685.61M933.8 675.47H939.2M933.8 685.61H939.2' stroke='#a04a48' stroke-width='1' fill='none'/><path d='M975.5 654.62V669.82M972.8 654.62H978.2M972.8 669.82H978.2' stroke='#a04a48' stroke-width='1' fill='none'/><path d='M1015.5 657.39V665.49M1012.8 657.39H1018.2M1012.8 665.49H1018.2' stroke='#a04a48' stroke-width='1' fill='none'/><path d='M1055.5 647.73V663.95M1052.8 647.73H1058.2M1052.8 663.95H1058.2' stroke='#a04a48' stroke-width='1' fill='none'/><circle cx='856.5' cy='754.49' r='3.05' fill='#e5433f'/><circle cx='896.5' cy='710.05' r='3.05' fill='#e5433f'/><circle cx='936.5' cy='680.54' r='3.05' fill='#e5433f'/><circle cx='975.5' cy='662.22' r='3.05' fill='#e5433f'/><circle cx='1015.5' cy='661.44' r='3.05' fill='#e5433f'/><circle cx='1055.5' cy='655.84' r='3.05' fill='#e5433f'/><path d='M816.5 653.99V662.1M813.8 653.99H819.2M813.8 662.1H819.2' stroke='#2e5a92' stroke-width='1' fill='none'/><path d='M812.4 660.74L816.5 654.14L820.6 660.74Z' fill='#2a68c4'/><path d='M943.4 758.5H975.2' stroke='#3a3a3a' stroke-width='1'/><rect x='956.3' y='756' width='5.2' height='5.2' fill='#474747'/><text x='977.9' y='763.6' font-size='14' text-anchor='start' font-weight='normal' fill='#000' textLength='100.5' lengthAdjust='spacing'>β-CD/PDMS@M</text><path d='M943.4 776.5H975.2' stroke='#9c4644' stroke-width='1'/><circle cx='958.9' cy='776.6' r='3' fill='#e5433f'/><text x='977.9' y='781.6' font-size='14' text-anchor='start' font-weight='normal' fill='#000' textLength='100.5' lengthAdjust='spacing'>γ-CD/PDMS@M</text><path d='M943.4 794.5H975.2' stroke='#2c5c98' stroke-width='1'/><path d='M955 797.3L958.9 790.9L962.8 797.3Z' fill='#2a68c4'/><text x='977.9' y='799.6' font-size='14' text-anchor='start' font-weight='normal' fill='#000' letter-spacing='2'>BM</text><path d='M456.5 810V805' stroke='#000' stroke-width='1'/><path d='M486.5 810V808' stroke='#000' stroke-width='1'/><path d='M515.5 810V805' stroke='#000' stroke-width='1'/><path d='M545.5 810V808' stroke='#000' stroke-width='1'/><path d='M574.5 810V805' stroke='#000' stroke-width='1'/><path d='M604.5 810V808' stroke='#000' stroke-width='1'/><path d='M633.5 810V805' stroke='#000' stroke-width='1'/><path d='M663.5 810V808' stroke='#000' stroke-width='1'/><path d='M692.5 810V805' stroke='#000' stroke-width='1'/><path d='M427 787.5H429' stroke='#000' stroke-width='1'/><path d='M427 764.5H432' stroke='#000' stroke-width='1'/><path d='M427 742.5H429' stroke='#000' stroke-width='1'/><path d='M427 719.5H432' stroke='#000' stroke-width='1'/><path d='M427 696.5H429' stroke='#000' stroke-width='1'/><path d='M427 673.5H432' stroke='#000' stroke-width='1'/><path d='M427 650.5H429' stroke='#000' stroke-width='1'/><path d='M427 628.5H432' stroke='#000' stroke-width='1'/><path d='M427 605.5H429' stroke='#000' stroke-width='1'/><text transform='translate(419.4 813) scale(0.9 1)' font-size='13' text-anchor='end' fill='#000'>400</text><text transform='translate(419.4 767) scale(0.9 1)' font-size='13' text-anchor='end' fill='#000'>500</text><text transform='translate(419.4 722) scale(0.9 1)' font-size='13' text-anchor='end' fill='#000'>600</text><text transform='translate(419.4 676) scale(0.9 1)' font-size='13' text-anchor='end' fill='#000'>700</text><text transform='translate(419.4 631) scale(0.9 1)' font-size='13' text-anchor='end' fill='#000'>800</text><text transform='translate(419.4 585) scale(0.9 1)' font-size='13' text-anchor='end' fill='#000'>900</text><rect x='426.5' y='582.5' width='295' height='228' fill='none' stroke='#000' stroke-width='1'/><text transform='translate(456.5 825) scale(0.9 1)' font-size='13' text-anchor='middle' fill='#000'>0</text><text transform='translate(515.5 825) scale(0.9 1)' font-size='13' text-anchor='middle' fill='#000'>20</text><text transform='translate(574.5 825) scale(0.9 1)' font-size='13' text-anchor='middle' fill='#000'>40</text><text transform='translate(633.5 825) scale(0.9 1)' font-size='13' text-anchor='middle' fill='#000'>60</text><text transform='translate(692.5 825) scale(0.9 1)' font-size='13' text-anchor='middle' fill='#000'>80</text><text x='574.5' y='846.5' font-size='14' text-anchor='middle' font-weight='normal' fill='#000' >Time (min)</text><text transform='translate(396 696.5) rotate(-90)' font-size='14' text-anchor='middle'>Flux (Lm<tspan font-size="10" dy="-5.5">-2</tspan><tspan dy="5.5">h</tspan><tspan font-size="10" dy="-5.5">-1</tspan><tspan dy="5.5">)</tspan></text><text x='378' y='591.9' font-size='18.5' font-weight='bold'>h<tspan font-weight='normal' font-size='20' dy='0.3'>)</tspan></text><path d='M515.5 590V810' stroke='#000' stroke-width='1.1' stroke-dasharray='4.8 5.22'/><path d='M574.5 590V810' stroke='#000' stroke-width='1.1' stroke-dasharray='4.8 5.22'/><text x='473.5' y='614.6' font-size='9.6' text-anchor='middle' font-weight='bold' fill='#000' >Feed of</text><text x='473.5' y='627.6' font-size='9.6' text-anchor='middle' font-weight='bold' fill='#000' >pure water</text><text x='544.3' y='614.6' font-size='9.6' text-anchor='middle' font-weight='bold' fill='#000' >Feed of</text><text x='544.3' y='627.6' font-size='9.6' text-anchor='middle' font-weight='bold' fill='#000' >SDS solution</text><text x='650' y='614.6' font-size='9.6' text-anchor='middle' font-weight='bold' fill='#000' >Feed of</text><text x='650' y='627.6' font-size='9.6' text-anchor='middle' font-weight='bold' fill='#000' >pure water</text><path d='M462.4 647.25L468.3 649.53L474.2 650.44L480.1 650.44L486 651.81L491.9 651.81L497.8 650.9L503.7 651.81L509.6 652.72L515.5 653.18L521.4 669.41L527.3 670.83L533.2 669.6L539.1 671.19L545 672.79L550.9 674.61L556.8 671.65L562.7 670.51L568.6 671.65L574.5 669.6L580.4 661.39L586.3 656.46L592.2 656.46L598.1 658.47L604 657.74L609.9 659.24L615.8 658.65L621.7 658.65L627.6 658.65L633.5 656.83L639.4 658.65L645.3 659.56L651.2 660.2L657.1 659.56L663 656.37L668.9 658.2L674.8 658.2L680.7 658.2L686.6 659.7L692.5 656.83' stroke='#3a3a3a' stroke-width='1' fill='none' stroke-linejoin='round'/><rect x='460.7' y='645.55' width='3.4' height='3.4' fill='#474747'/><rect x='466.6' y='647.83' width='3.4' height='3.4' fill='#474747'/><rect x='472.5' y='648.74' width='3.4' height='3.4' fill='#474747'/><rect x='478.4' y='648.74' width='3.4' height='3.4' fill='#474747'/><rect x='484.3' y='650.11' width='3.4' height='3.4' fill='#474747'/><rect x='490.2' y='650.11' width='3.4' height='3.4' fill='#474747'/><rect x='496.1' y='649.2' width='3.4' height='3.4' fill='#474747'/><rect x='502' y='650.11' width='3.4' height='3.4' fill='#474747'/><rect x='507.9' y='651.02' width='3.4' height='3.4' fill='#474747'/><rect x='513.8' y='651.48' width='3.4' height='3.4' fill='#474747'/><rect x='519.7' y='667.71' width='3.4' height='3.4' fill='#474747'/><rect x='525.6' y='669.13' width='3.4' height='3.4' fill='#474747'/><rect x='531.5' y='667.9' width='3.4' height='3.4' fill='#474747'/><rect x='537.4' y='669.49' width='3.4' height='3.4' fill='#474747'/><rect x='543.3' y='671.09' width='3.4' height='3.4' fill='#474747'/><rect x='549.2' y='672.91' width='3.4' height='3.4' fill='#474747'/><rect x='555.1' y='669.95' width='3.4' height='3.4' fill='#474747'/><rect x='561' y='668.81' width='3.4' height='3.4' fill='#474747'/><rect x='566.9' y='669.95' width='3.4' height='3.4' fill='#474747'/><rect x='572.8' y='667.9' width='3.4' height='3.4' fill='#474747'/><rect x='578.7' y='659.69' width='3.4' height='3.4' fill='#474747'/><rect x='584.6' y='654.76' width='3.4' height='3.4' fill='#474747'/><rect x='590.5' y='654.76' width='3.4' height='3.4' fill='#474747'/><rect x='596.4' y='656.77' width='3.4' height='3.4' fill='#474747'/><rect x='602.3' y='656.04' width='3.4' height='3.4' fill='#474747'/><rect x='608.2' y='657.54' width='3.4' height='3.4' fill='#474747'/><rect x='614.1' y='656.95' width='3.4' height='3.4' fill='#474747'/><rect x='620' y='656.95' width='3.4' height='3.4' fill='#474747'/><rect x='625.9' y='656.95' width='3.4' height='3.4' fill='#474747'/><rect x='631.8' y='655.13' width='3.4' height='3.4' fill='#474747'/><rect x='637.7' y='656.95' width='3.4' height='3.4' fill='#474747'/><rect x='643.6' y='657.86' width='3.4' height='3.4' fill='#474747'/><rect x='649.5' y='658.5' width='3.4' height='3.4' fill='#474747'/><rect x='655.4' y='657.86' width='3.4' height='3.4' fill='#474747'/><rect x='661.3' y='654.67' width='3.4' height='3.4' fill='#474747'/><rect x='667.2' y='656.5' width='3.4' height='3.4' fill='#474747'/><rect x='673.1' y='656.5' width='3.4' height='3.4' fill='#474747'/><rect x='679' y='656.5' width='3.4' height='3.4' fill='#474747'/><rect x='684.9' y='658' width='3.4' height='3.4' fill='#474747'/><rect x='690.8' y='655.13' width='3.4' height='3.4' fill='#474747'/><path d='M462.4 649.67L468.3 653.18L474.2 649.99L480.1 649.67L486 652.72L491.9 653.64L497.8 653.64L503.7 653.18L509.6 654.55L515.5 655L521.4 682.64L527.3 695.27L533.2 695.91L539.1 692.9L545 692.12L550.9 695.91L556.8 693.95L562.7 695.91L568.6 693.31L574.5 693.95L580.4 683.05L586.3 673.7L592.2 661.71L598.1 655.69L604 657.01L609.9 657.56L615.8 657.74L621.7 655.92L627.6 657.56L633.5 661.39L639.4 658.2L645.3 658.65L651.2 654.87L657.1 656.83L663 656.37L668.9 658.65L674.8 657.56L680.7 658.2L686.6 654.87L692.5 656.37' stroke='#9c4644' stroke-width='1' fill='none' stroke-linejoin='round'/><circle cx='462.4' cy='649.67' r='1.9' fill='#e5433f'/><circle cx='468.3' cy='653.18' r='1.9' fill='#e5433f'/><circle cx='474.2' cy='649.99' r='1.9' fill='#e5433f'/><circle cx='480.1' cy='649.67' r='1.9' fill='#e5433f'/><circle cx='486' cy='652.72' r='1.9' fill='#e5433f'/><circle cx='491.9' cy='653.64' r='1.9' fill='#e5433f'/><circle cx='497.8' cy='653.64' r='1.9' fill='#e5433f'/><circle cx='503.7' cy='653.18' r='1.9' fill='#e5433f'/><circle cx='509.6' cy='654.55' r='1.9' fill='#e5433f'/><circle cx='515.5' cy='655' r='1.9' fill='#e5433f'/><circle cx='521.4' cy='682.64' r='1.9' fill='#e5433f'/><circle cx='527.3' cy='695.27' r='1.9' fill='#e5433f'/><circle cx='533.2' cy='695.91' r='1.9' fill='#e5433f'/><circle cx='539.1' cy='692.9' r='1.9' fill='#e5433f'/><circle cx='545' cy='692.12' r='1.9' fill='#e5433f'/><circle cx='550.9' cy='695.91' r='1.9' fill='#e5433f'/><circle cx='556.8' cy='693.95' r='1.9' fill='#e5433f'/><circle cx='562.7' cy='695.91' r='1.9' fill='#e5433f'/><circle cx='568.6' cy='693.31' r='1.9' fill='#e5433f'/><circle cx='574.5' cy='693.95' r='1.9' fill='#e5433f'/><circle cx='580.4' cy='683.05' r='1.9' fill='#e5433f'/><circle cx='586.3' cy='673.7' r='1.9' fill='#e5433f'/><circle cx='592.2' cy='661.71' r='1.9' fill='#e5433f'/><circle cx='598.1' cy='655.69' r='1.9' fill='#e5433f'/><circle cx='604' cy='657.01' r='1.9' fill='#e5433f'/><circle cx='609.9' cy='657.56' r='1.9' fill='#e5433f'/><circle cx='615.8' cy='657.74' r='1.9' fill='#e5433f'/><circle cx='621.7' cy='655.92' r='1.9' fill='#e5433f'/><circle cx='627.6' cy='657.56' r='1.9' fill='#e5433f'/><circle cx='633.5' cy='661.39' r='1.9' fill='#e5433f'/><circle cx='639.4' cy='658.2' r='1.9' fill='#e5433f'/><circle cx='645.3' cy='658.65' r='1.9' fill='#e5433f'/><circle cx='651.2' cy='654.87' r='1.9' fill='#e5433f'/><circle cx='657.1' cy='656.83' r='1.9' fill='#e5433f'/><circle cx='663' cy='656.37' r='1.9' fill='#e5433f'/><circle cx='668.9' cy='658.65' r='1.9' fill='#e5433f'/><circle cx='674.8' cy='657.56' r='1.9' fill='#e5433f'/><circle cx='680.7' cy='658.2' r='1.9' fill='#e5433f'/><circle cx='686.6' cy='654.87' r='1.9' fill='#e5433f'/><circle cx='692.5' cy='656.37' r='1.9' fill='#e5433f'/><path d='M462.4 657.28L468.3 657.28L474.2 654.23L480.1 657.28L486 658.42L491.9 658.42L497.8 658.2L503.7 657.28L509.6 658.2L515.5 660.61L521.4 698.14L527.3 733.71L533.2 765.63L539.1 768.46L545 766.36L550.9 767.36L556.8 767.36L562.7 767.36L568.6 766.36L574.5 768.78L580.4 759.43L586.3 747.21L592.2 731.7L598.1 711.55L604 697.37L609.9 683.14L615.8 675.2L621.7 669L627.6 662.98L633.5 657.6L639.4 660.93L645.3 659.24L651.2 662.98L657.1 658.7L663 656.01L668.9 657.01L674.8 658.65L680.7 658.65L686.6 656.51L692.5 656.51' stroke='#2c5c98' stroke-width='1' fill='none' stroke-linejoin='round'/><path d='M459.9 658.83L462.4 654.33L464.9 658.83Z' fill='#2a68c4'/><path d='M465.8 658.83L468.3 654.33L470.8 658.83Z' fill='#2a68c4'/><path d='M471.7 655.78L474.2 651.28L476.7 655.78Z' fill='#2a68c4'/><path d='M477.6 658.83L480.1 654.33L482.6 658.83Z' fill='#2a68c4'/><path d='M483.5 659.97L486 655.47L488.5 659.97Z' fill='#2a68c4'/><path d='M489.4 659.97L491.9 655.47L494.4 659.97Z' fill='#2a68c4'/><path d='M495.3 659.75L497.8 655.25L500.3 659.75Z' fill='#2a68c4'/><path d='M501.2 658.83L503.7 654.33L506.2 658.83Z' fill='#2a68c4'/><path d='M507.1 659.75L509.6 655.25L512.1 659.75Z' fill='#2a68c4'/><path d='M513 662.16L515.5 657.66L518 662.16Z' fill='#2a68c4'/><path d='M518.9 699.69L521.4 695.19L523.9 699.69Z' fill='#2a68c4'/><path d='M524.8 735.26L527.3 730.76L529.8 735.26Z' fill='#2a68c4'/><path d='M530.7 767.18L533.2 762.68L535.7 767.18Z' fill='#2a68c4'/><path d='M536.6 770.01L539.1 765.51L541.6 770.01Z' fill='#2a68c4'/><path d='M542.5 767.91L545 763.41L547.5 767.91Z' fill='#2a68c4'/><path d='M548.4 768.91L550.9 764.41L553.4 768.91Z' fill='#2a68c4'/><path d='M554.3 768.91L556.8 764.41L559.3 768.91Z' fill='#2a68c4'/><path d='M560.2 768.91L562.7 764.41L565.2 768.91Z' fill='#2a68c4'/><path d='M566.1 767.91L568.6 763.41L571.1 767.91Z' fill='#2a68c4'/><path d='M572 770.33L574.5 765.83L577 770.33Z' fill='#2a68c4'/><path d='M577.9 760.98L580.4 756.48L582.9 760.98Z' fill='#2a68c4'/><path d='M583.8 748.76L586.3 744.26L588.8 748.76Z' fill='#2a68c4'/><path d='M589.7 733.25L592.2 728.75L594.7 733.25Z' fill='#2a68c4'/><path d='M595.6 713.1L598.1 708.6L600.6 713.1Z' fill='#2a68c4'/><path d='M601.5 698.92L604 694.42L606.5 698.92Z' fill='#2a68c4'/><path d='M607.4 684.69L609.9 680.19L612.4 684.69Z' fill='#2a68c4'/><path d='M613.3 676.75L615.8 672.25L618.3 676.75Z' fill='#2a68c4'/><path d='M619.2 670.55L621.7 666.05L624.2 670.55Z' fill='#2a68c4'/><path d='M625.1 664.53L627.6 660.03L630.1 664.53Z' fill='#2a68c4'/><path d='M631 659.15L633.5 654.65L636 659.15Z' fill='#2a68c4'/><path d='M636.9 662.48L639.4 657.98L641.9 662.48Z' fill='#2a68c4'/><path d='M642.8 660.79L645.3 656.29L647.8 660.79Z' fill='#2a68c4'/><path d='M648.7 664.53L651.2 660.03L653.7 664.53Z' fill='#2a68c4'/><path d='M654.6 660.25L657.1 655.75L659.6 660.25Z' fill='#2a68c4'/><path d='M660.5 657.56L663 653.06L665.5 657.56Z' fill='#2a68c4'/><path d='M666.4 658.56L668.9 654.06L671.4 658.56Z' fill='#2a68c4'/><path d='M672.3 660.2L674.8 655.7L677.3 660.2Z' fill='#2a68c4'/><path d='M678.2 660.2L680.7 655.7L683.2 660.2Z' fill='#2a68c4'/><path d='M684.1 658.06L686.6 653.56L689.1 658.06Z' fill='#2a68c4'/><path d='M690 658.06L692.5 653.56L695 658.06Z' fill='#2a68c4'/><path d='M594.3 757.2H625.7' stroke='#3a3a3a' stroke-width='1'/><rect x='607.8' y='755.2' width='4' height='4' fill='#474747'/><text x='629.5' y='761.6' font-size='14' text-anchor='start' font-weight='normal' fill='#000' textLength='83.5' lengthAdjust='spacing'>0.01 wt% SDS</text><path d='M594.3 775.25H625.7' stroke='#9c4644' stroke-width='1'/><circle cx='609.8' cy='775.25' r='2.25' fill='#e5433f'/><text x='629.5' y='779.65' font-size='14' text-anchor='start' font-weight='normal' fill='#000' textLength='83.5' lengthAdjust='spacing'>0.10 wt% SDS</text><path d='M594.3 793.3H625.7' stroke='#2c5c98' stroke-width='1'/><path d='M607.3 795.55L609.8 791.05L612.3 795.55Z' fill='#2a68c4'/><text x='629.5' y='797.7' font-size='14' text-anchor='start' font-weight='normal' fill='#000' textLength='83.5' lengthAdjust='spacing'>1.00 wt% SDS</text></svg></body></html>
